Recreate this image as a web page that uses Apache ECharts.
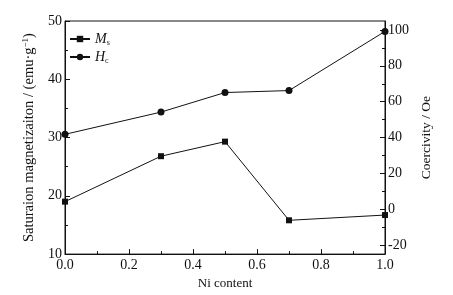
<!DOCTYPE html>
<html>
<head>
<meta charset="utf-8">
<script src="https://cdn.jsdelivr.net/npm/echarts@6/dist/echarts.min.js"></script>
<style>
  html, body { margin: 0; padding: 0; background: #fff; }
  #main { width: 453px; height: 295px; }
</style>
</head>
<body>
<div id="main"></div>
<script>
const niContent = [0, 0.3, 0.5, 0.7, 1.0];
const msValues = [19.0, 26.8, 29.3, 15.8, 16.7];
const hcValues = [41.8, 54.2, 65.1, 66.2, 99.2];
const rightTicks = [-20, 0, 20, 40, 60, 80, 100];
const rightMinorTicks = [-10, 10, 30, 50, 70, 90];

const font = "Liberation Serif";
const black = "#111";

function pairs(xs, ys) {
  return xs.map((x, i) => [x, ys[i]]);
}

const chart = echarts.init(document.getElementById("main"));

chart.setOption({
  animation: false,
  textStyle: { fontFamily: font, color: black },
  grid: {
    left: 65, right: 68, top: 21, bottom: 36,
    show: true, borderColor: black, borderWidth: 1, backgroundColor: "transparent"
  },
  legend: {
    left: 64, top: 27, orient: "vertical", itemGap: 3,
    itemWidth: 20, itemHeight: 8,
    data: ["Ms", "Hc"],
    formatter: (name) => "{i|" + name[0] + "}{s|" + name[1] + "}",
    textStyle: {
      fontFamily: font, color: black,
      rich: {
        i: { fontFamily: font, fontStyle: "italic", fontSize: 14, color: black },
        s: { fontFamily: font, fontSize: 8, color: black, padding: [8, 0, 0, 0] }
      }
    }
  },
  xAxis: {
    type: "value", min: 0, max: 1, interval: 0.2,
    name: "Ni content", nameLocation: "middle", nameGap: 21,
    nameTextStyle: { fontFamily: font, fontSize: 13, color: black },
    axisLine: { onZero: false, lineStyle: { color: black } },
    axisTick: { inside: true, length: 5, lineStyle: { color: black } },
    minorTick: { show: true, splitNumber: 2, length: 3, lineStyle: { color: black } },
    axisLabel: { fontFamily: font, fontSize: 14, color: black, margin: 4, formatter: (v) => v.toFixed(1) },
    splitLine: { show: false }
  },
  yAxis: [
    {
      type: "value", min: 10, max: 50, interval: 10, position: "left",
      name: "Saturaion magnetizaiton / (emu·g{sup|−1})", nameLocation: "middle", nameGap: 24, nameRotate: 90,
      nameTextStyle: {
        fontFamily: font, fontSize: 14.5, color: black,
        rich: { sup: { fontFamily: font, fontSize: 9, color: black, padding: [0, 0, 7, 0] } }
      },
      axisLine: { show: true, onZero: false, lineStyle: { color: black } },
      axisTick: { inside: true, length: 5, lineStyle: { color: black } },
      minorTick: { show: true, splitNumber: 2, length: 3, lineStyle: { color: black } },
      axisLabel: { fontFamily: font, fontSize: 14, color: black, margin: 3 },
      splitLine: { show: false }
    },
    {
      type: "value", min: -25, max: 105, position: "right",
      name: "Coercivity / Oe", nameLocation: "middle", nameGap: 28, nameRotate: 90,
      nameTextStyle: { fontFamily: font, fontSize: 13.5, color: black },
      axisLine: { show: true, onZero: false, lineStyle: { color: black } },
      axisTick: { inside: true, length: 5, customValues: rightTicks, lineStyle: { color: black } },
      axisLabel: { fontFamily: font, fontSize: 14, color: black, margin: 3, customValues: rightTicks },
      splitLine: { show: false }
    },
    {
      type: "value", min: -25, max: 105, position: "right",
      axisLine: { show: false, onZero: false },
      axisTick: { show: true, inside: true, length: 3, customValues: rightMinorTicks, lineStyle: { color: black } },
      axisLabel: { show: false },
      splitLine: { show: false }
    }
  ],
  series: [
    {
      name: "Ms", type: "line", yAxisIndex: 0,
      data: pairs(niContent, msValues),
      symbol: "rect", symbolSize: 6,
      lineStyle: { color: black, width: 1 },
      itemStyle: { color: black },
      clip: false
    },
    {
      name: "Hc", type: "line", yAxisIndex: 1,
      data: pairs(niContent, hcValues),
      symbol: "circle", symbolSize: 7,
      lineStyle: { color: black, width: 1 },
      itemStyle: { color: black },
      clip: false
    }
  ]
});
</script>
</body>
</html>
